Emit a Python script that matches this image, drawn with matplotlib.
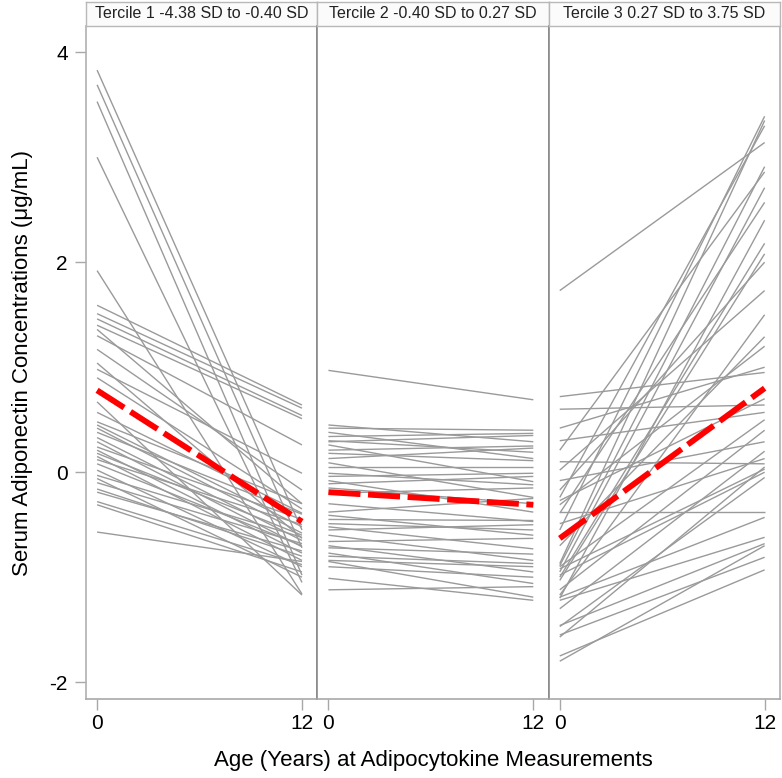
import matplotlib
matplotlib.use("Agg")
import matplotlib.pyplot as plt

plt.rcParams['font.family'] = ['Liberation Sans', 'DejaVu Sans']
plt.rcParams['axes.unicode_minus'] = False

panel_titles = ["Tercile 1 -4.38 SD to -0.40 SD",
                "Tercile 2 -0.40 SD to 0.27 SD",
                "Tercile 3 0.27 SD to 3.75 SD"]
ages = [0, 12]

# Tercile 1: individual values at age 0 and age 12
t1_start = [3.83, 3.69, 3.53, 3.00, 1.92, 1.59, 1.51, 1.46, 1.40, 1.36, 1.30, 1.17, 1.04,
            0.98, 0.90, 0.67, 0.57, 0.45, 0.42, 0.38, 0.33, 0.29, 0.24, 0.21, 0.18, 0.15,
            0.08, 0.02, -0.03, -0.06, -0.16, -0.19, -0.28, -0.31, -0.57, 0.48, 0.12, -0.10]
t1_end = [-0.55, -0.72, -0.98, -1.05, -1.16, 0.64, 0.61, 0.54, 0.51, -0.30, 0.26, -0.17, -0.63,
          -0.01, -0.35, -1.17, -0.39, -0.52, -0.58, -0.40, -0.65, -0.71, -0.45, -0.77, -0.60, -0.84,
          -0.70, -0.90, -0.62, -1.00, -0.80, -0.75, -0.88, -0.95, -0.85, -0.30, -0.50, -0.68]

# Tercile 2
t2_start = [0.97, 0.45, 0.42, 0.38, 0.34, 0.30, 0.29, 0.26, 0.21, 0.18, 0.13, 0.09, 0.05,
            -0.01, -0.04, -0.08, -0.11, -0.15, -0.20, -0.30, -0.38, -0.41, -0.45, -0.49, -0.52,
            -0.55, -0.60, -0.66, -0.70, -0.72, -0.77, -0.80, -0.84, -0.85, -0.90, -1.01, -1.12]
t2_end = [0.69, 0.29, 0.40, 0.13, 0.37, 0.19, 0.35, -0.09, 0.25, 0.11, 0.23, -0.24, 0.05,
          -0.12, -0.01, -0.38, -0.04, -0.30, -0.15, -0.47, -0.25, -0.60, -0.46, -0.55, -0.73,
          -0.50, -0.84, -0.63, -0.95, -0.78, -1.06, -0.87, -0.90, -1.19, -1.00, -1.22, -1.09]

# Tercile 3
t3_start = [1.73, 0.72, 0.60, 0.42, 0.30, 0.21, 0.10, 0.02, -0.08, -0.17, -0.24, -0.27, -0.31,
            -0.38, -0.39, -0.49, -0.55, -0.70, -0.87, -0.89, -0.90, -0.92, -0.95, -0.98, -1.00,
            -1.03, -1.12, -1.17, -1.19, -1.20, -1.22, -1.30, -1.46, -1.47, -1.55, -1.57, -1.75, -1.80]
t3_end = [3.14, 0.95, 0.64, 1.00, 0.57, 2.86, 0.08, 1.73, 0.29, 2.00, 3.30, 0.70, 1.20,
          -0.38, 2.57, 0.13, 3.39, 1.29, 3.35, 2.91, 0.50, 0.03, 2.71, 0.00, 2.18,
          2.08, 0.40, 1.50, -0.43, 2.40, -0.62, 0.20, -0.68, -0.05, -0.81, 0.05, -0.93, -0.70]

# Mean trajectories (red dashed)
mean_start = [0.78, -0.19, -0.63]
mean_end = [-0.47, -0.31, 0.80]

starts = [t1_start, t2_start, t3_start]
ends = [t1_end, t2_end, t3_end]

W, H = 782, 778
fig = plt.figure(figsize=(W / 100, H / 100), dpi=100)

left_px, right_px = 86, 780
top_px, bot_px = 26, 699
pw = (right_px - left_px) / 3.0

for i in range(3):
    x0 = left_px + i * pw
    ax = fig.add_axes([x0 / W, 1 - bot_px / H, pw / W, (bot_px - top_px) / H])
    for s, e in zip(starts[i], ends[i]):
        ax.plot(ages, [s, e], color='#9a9a9a', lw=1.0, solid_capstyle='butt', zorder=2)
    ax.plot(ages, [mean_start[i], mean_end[i]], color='#ff0000', lw=4.2,
            dashes=(5.5, 1.3), solid_capstyle='butt', dash_capstyle='butt', zorder=3)
    ax.set_xlim(-0.65, 12.9)
    ax.set_ylim(-2.16, 4.25)
    ax.set_xticks(ages)
    ax.set_xticklabels([str(a) for a in ages])
    ax.set_yticks([-2, 0, 2, 4])
    for sp in ['left', 'right']:
        ax.spines[sp].set_color('#8a8a8a')
        ax.spines[sp].set_linewidth(1.2)
    ax.spines['top'].set_visible(False)
    ax.spines['bottom'].set_color('#a8a8a8')
    ax.spines['bottom'].set_linewidth(1.2)
    ax.tick_params(axis='x', direction='out', length=8, width=1, color='#a8a8a8',
                   labelsize=15, pad=3)
    if i == 0:
        ax.spines['left'].set_color('#b0b0b0')
        ax.tick_params(axis='y', direction='out', length=8, width=1, color='#a8a8a8',
                       labelsize=15, pad=5)
        ax.set_ylabel("Serum Adiponectin Concentrations (μg/mL)", fontsize=16, labelpad=12)
    else:
        ax.tick_params(axis='y', left=False, labelleft=False)
    if i == 1:
        ax.set_xlabel("Age (Years) at Adipocytokine Measurements", fontsize=16, labelpad=12)
    if i == 2:
        ax.spines['right'].set_color('#b0b0b0')

    # header strip
    hax = fig.add_axes([x0 / W, 1 - top_px / H, pw / W, 24 / H])
    hax.set_xticks([])
    hax.set_yticks([])
    hax.set_facecolor('#fbfbfb')
    for sp in hax.spines.values():
        sp.set_color('#b8b8b8')
        sp.set_linewidth(1.0)
    hax.text(0.5, 0.5, panel_titles[i], ha='center', va='center', fontsize=11.5,
             color='#222222', transform=hax.transAxes)

fig.savefig("out.png", dpi=100)
